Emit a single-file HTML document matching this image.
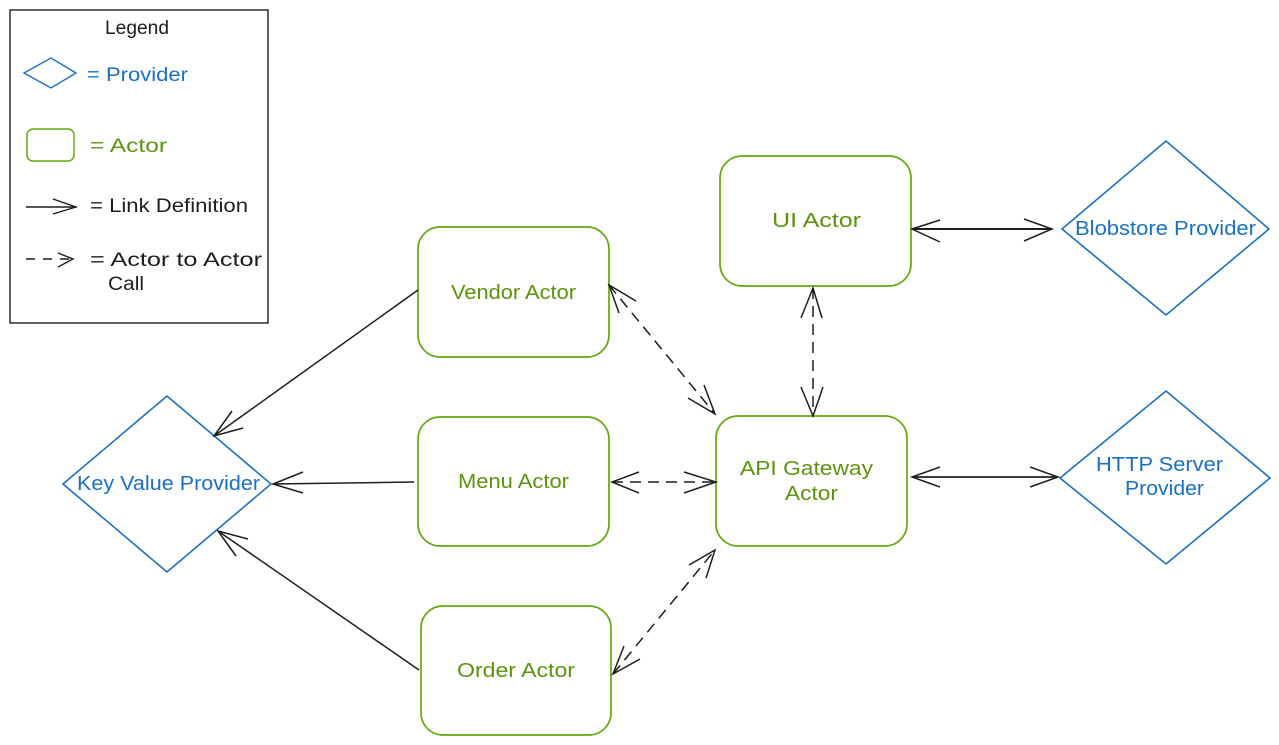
<!DOCTYPE html>
<html>
<head>
<meta charset="utf-8">
<style>
  html,body{margin:0;padding:0;background:#ffffff;}
  svg{display:block;}
  text{font-family:"Liberation Sans", sans-serif;}
</style>
</head>
<body>
<svg width="1279" height="745" viewBox="0 0 1279 745" xmlns="http://www.w3.org/2000/svg">
  <rect x="0" y="0" width="1279" height="745" fill="#ffffff"/>

  <!-- Legend -->
  <rect x="10" y="10" width="258" height="313" fill="none" stroke="#1e1e1e" stroke-width="1.4"/>
  <text x="105" y="34" font-size="19" fill="#1e1e1e" textLength="64" lengthAdjust="spacingAndGlyphs">Legend</text>
  <polygon points="24,73 51,58 76,73 51,88" fill="none" stroke="#1971c2" stroke-width="1.4"/>
  <text x="87" y="81" font-size="19" fill="#1971c2" textLength="101" lengthAdjust="spacingAndGlyphs">= Provider</text>
  <rect x="27" y="129" width="47" height="32" rx="6" fill="none" stroke="#66a80f" stroke-width="1.5"/>
  <text x="90" y="152" font-size="19" fill="#5c940d" textLength="77" lengthAdjust="spacingAndGlyphs">= Actor</text>
  <line x1="26" y1="207" x2="76" y2="207" stroke="#1e1e1e" stroke-width="1.4"/>
  <polyline points="53,199 76,207 53,214" fill="none" stroke="#1e1e1e" stroke-width="1.4"/>
  <text x="90" y="212" font-size="19" fill="#1e1e1e" textLength="158" lengthAdjust="spacingAndGlyphs">= Link Definition</text>
  <line x1="26" y1="259" x2="70" y2="259" stroke="#1e1e1e" stroke-width="1.4" stroke-dasharray="9 8"/>
  <polyline points="58,253 73,259 58,267" fill="none" stroke="#1e1e1e" stroke-width="1.4"/>
  <text x="90" y="266" font-size="19" fill="#1e1e1e" textLength="172" lengthAdjust="spacingAndGlyphs">= Actor to Actor</text>
  <text x="108" y="290" font-size="19" fill="#1e1e1e" textLength="36" lengthAdjust="spacingAndGlyphs">Call</text>

  <!-- Actors -->
  <g fill="none" stroke="#66a80f" stroke-width="1.7">
    <rect x="418" y="227" width="191" height="130" rx="22"/>
    <rect x="418" y="417" width="191" height="129" rx="22"/>
    <rect x="421" y="606" width="190" height="129" rx="22"/>
    <rect x="720" y="156" width="191" height="130" rx="22"/>
    <rect x="716" y="416" width="191" height="130" rx="22"/>
  </g>
  <g font-size="20" fill="#5c940d">
    <text x="451" y="299" textLength="125" lengthAdjust="spacingAndGlyphs">Vendor Actor</text>
    <text x="458" y="488" textLength="111" lengthAdjust="spacingAndGlyphs">Menu Actor</text>
    <text x="457" y="677" textLength="118" lengthAdjust="spacingAndGlyphs">Order Actor</text>
    <text x="772" y="227" textLength="89" lengthAdjust="spacingAndGlyphs">UI Actor</text>
    <text x="740" y="475" textLength="133" lengthAdjust="spacingAndGlyphs">API Gateway</text>
    <text x="785" y="500" textLength="53" lengthAdjust="spacingAndGlyphs">Actor</text>
  </g>

  <!-- Providers -->
  <g fill="none" stroke="#1971c2" stroke-width="1.6">
    <polygon points="63,484 167,396 271,484 167,572"/>
    <polygon points="1062,229 1166,141 1269,229 1166,315"/>
    <polygon points="1060,478 1166,391 1270,478 1166,564"/>
  </g>
  <g font-size="20" fill="#1971c2">
    <text x="77" y="490" textLength="183" lengthAdjust="spacingAndGlyphs">Key Value Provider</text>
    <text x="1075" y="235" textLength="181" lengthAdjust="spacingAndGlyphs">Blobstore Provider</text>
    <text x="1096" y="471" textLength="127" lengthAdjust="spacingAndGlyphs">HTTP Server</text>
    <text x="1125" y="495" textLength="79" lengthAdjust="spacingAndGlyphs">Provider</text>
  </g>

  <!-- Solid link definitions -->
  <g fill="none" stroke="#1e1e1e" stroke-width="1.5">
    <line x1="418" y1="290" x2="214" y2="436"/>
    <polyline points="232,411 214,436 243,428"/>
    <line x1="414" y1="482" x2="273" y2="484"/>
    <polyline points="303,472 273,484 303,493"/>
    <line x1="419" y1="670" x2="218" y2="531"/>
    <polyline points="248,539 218,531 236,556"/>

    <line x1="912" y1="229" x2="1052" y2="229" stroke-width="1.9"/>
    <polyline points="940,220 912,229 940,242"/>
    <polyline points="1024,219 1052,229 1024,241"/>

    <line x1="912" y1="477" x2="1058" y2="477" stroke-width="1.7"/>
    <polyline points="940,467 912,477 940,487"/>
    <polyline points="1030,467 1058,477 1030,487"/>
  </g>

  <!-- Dashed actor-to-actor calls -->
  <g fill="none" stroke="#1e1e1e" stroke-width="1.5">
    <line x1="609" y1="285" x2="715" y2="414" stroke-dasharray="11 7"/>
    <polyline points="636,301 609,285 619,313"/>
    <polyline points="688,398 715,414 704,385"/>

    <line x1="612" y1="482" x2="716" y2="482" stroke-dasharray="11 7"/>
    <polyline points="639,472 612,482 639,493"/>
    <polyline points="684,472 716,482 684,493"/>

    <line x1="613" y1="674" x2="715" y2="550" stroke-dasharray="11 7"/>
    <polyline points="624,646 613,674 640,659"/>
    <polyline points="689,565 715,550 706,578"/>

    <line x1="813" y1="288" x2="813" y2="416" stroke-dasharray="11 7"/>
    <polyline points="801,318 813,288 822,318"/>
    <polyline points="801,387 813,416 823,387"/>
  </g>
</svg>
</body>
</html>
